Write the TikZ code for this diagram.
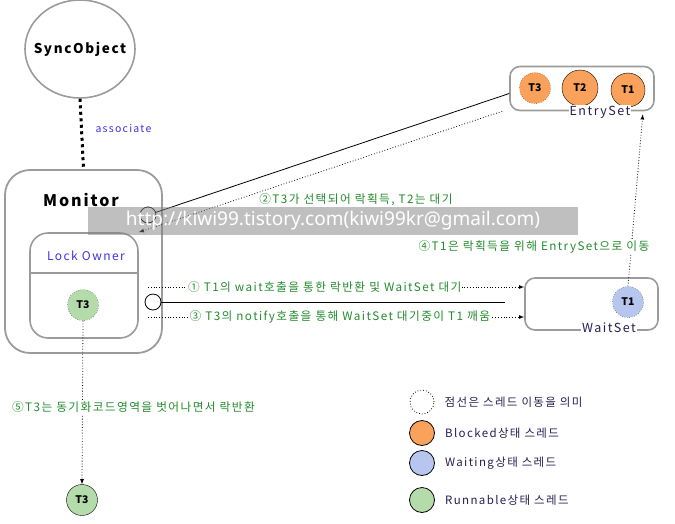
\documentclass[tikz,border=0pt]{standalone}
\usepackage{fontspec}
\setmainfont{Noto Sans CJK KR}
\newfontfamily\spacedfont[LetterSpace=12]{Noto Sans CJK KR}
\newfontfamily\markfont{Noto Sans}
\usepackage{tikz}
\usetikzlibrary{positioning,shapes,arrows}
\definecolor{blockorange}{RGB}{250,162,92}
\definecolor{waitblue}{RGB}{182,198,238}
\definecolor{rungreen}{RGB}{180,220,170}
\definecolor{stepgreen}{RGB}{35,140,45}
\definecolor{boxgray}{RGB}{155,155,155}
\definecolor{legendnavy}{RGB}{40,30,80}
\definecolor{ownerblue}{RGB}{60,50,230}

\begin{document}
\begin{tikzpicture}[x=1pt, y=-1pt, every node/.style={font=\fontsize{10}{12}\selectfont},
  thread/.style={draw, circle, minimum size=31pt, inner sep=0pt, font=\fontsize{10.5}{12}\selectfont\bfseries},
  port/.style={draw, circle, fill=white, minimum size=16pt, inner sep=0pt, thick},
  setbox/.style={draw=boxgray, line width=1.6pt, rounded corners=10pt, inner sep=0pt},
  moveline/.style={dotted, thick, -latex},
  steplabel/.style={text=stepgreen, fill=white, inner sep=1pt, font=\spacedfont\fontsize{11.7}{13}\selectfont},
  legendlabel/.style={text=legendnavy, anchor=west, inner sep=0pt, font=\spacedfont\fontsize{11.5}{13}\selectfont}]
\useasboundingbox (0,0) rectangle (675,523);

% SyncObject and Monitor
\node[draw=boxgray, line width=1.6pt, ellipse, minimum width=110pt, minimum height=98pt] (sync) at (80,49) {};
\node[font=\spacedfont\fontsize{13.5}{16}\selectfont\bfseries] (synctitle) at (sync) {SyncObject};
\node[draw=boxgray, line width=1.8pt, rounded corners=25pt, minimum width=157pt, minimum height=183pt] (monitor) at (83.5,261.5) {};
\node[font=\spacedfont\fontsize{16}{19}\selectfont\bfseries] (montitle) at (81,200) {Monitor};
\draw[line width=3pt, dash pattern=on 3pt off 3.5pt] (sync.south) -- (monitor.north);
\node[text=ownerblue, anchor=west, font=\spacedfont\fontsize{10.5}{12}\selectfont] (assoc) at (92,128) {associate};

% Lock Owner
\node[draw=boxgray, line width=1.6pt, rounded corners=18pt, minimum width=108pt, minimum height=105pt] (lockowner) at (84,285.5) {};
\draw[boxgray, line width=1.6pt] (30,273) -- (138,273);
\node[text=ownerblue, font=\spacedfont\fontsize{12}{14}\selectfont] (ownertitle) at (86,256) {Lock Owner};
\node[thread, fill=rungreen, dotted] (lockT3) at (83,305) {T3};
\node[thread, fill=rungreen] (outT3) at (82,500) {T3};

% EntrySet and WaitSet
\node[setbox, minimum width=144pt, minimum height=44pt] (entryset) at (582,88.5) {};
\node[thread, fill=blockorange, dotted] (entryT3) at (535,88) {T3};
\node[thread, fill=blockorange, minimum width=36pt] (entryT2) at (580,88) {T2};
\node[thread, fill=blockorange, minimum size=34pt] (entryT1) at (628,90) {T1};
\node[fill=white, text=legendnavy, inner sep=1pt, font=\spacedfont\fontsize{12.5}{14}\selectfont] (entrytitle) at (600,112) {EntrySet};

\node[setbox, minimum width=133pt, minimum height=52pt] (waitset) at (591.5,304) {};
\node[thread, fill=waitblue, dotted] (waitT1) at (628,302) {T1};
\node[fill=white, text=legendnavy, inner sep=1pt, font=\spacedfont\fontsize{12.5}{14}\selectfont] (waittitle) at (609,328) {WaitSet};

% ports and connectors
\node[port] (entryport) at (148,215) {};
\node[port] (waitport) at (153,302) {};
\coordinate (waitend) at (505,302);
\draw[thick] (entryport) -- ([yshift=-5pt]entryset.west);
\draw[thick] (waitport) -- (waitend);

% thread moves
\coordinate (step1) at (148,287);
\coordinate (step3) at (148,317);
\draw[moveline] ([xshift=-7pt]entryset.south west) -- (lockowner.north east);
\node[steplabel] (label2) at (356,200) {②T3가 선택되어 락획득, T2는 대기};
\draw[moveline] (step1) -- (step1 -| waitset.west) node[steplabel, pos=0.47] (label1) {① T1의 wait호출을 통한 락반환 및 WaitSet 대기};
\draw[moveline] (step3) -- (step3 -| waitset.west) node[steplabel, pos=0.51] (label3) {③ T3의 notify호출을 통해 WaitSet 대기중이 T1 깨움};
\draw[moveline] (waitT1.north) -- ([xshift=-12pt, yshift=-3pt]entryset.south east);
\node[steplabel] (label4) at (534,247) {④T1은 락획득을 위해 EntrySet으로 이동};
\draw[moveline] (lockT3.south) -- (outT3.north) node[steplabel, pos=0.53, xshift=51pt] (label5) {⑤T3는 동기화코드영역을 벗어나면서 락반환};

% legend
\node[draw, dotted, thick, circle, minimum size=24pt] (legmove) at (422,402) {};
\node[legendlabel, right=10pt of legmove] {점선은 스레드 이동을 의미};
\node[draw, thick, circle, fill=blockorange, minimum size=25pt] (legblocked) at (422,433) {};
\node[legendlabel, right=10pt of legblocked] {Blocked상태 스레드};
\node[draw, thick, circle, fill=waitblue, minimum size=25pt] (legwaiting) at (422,463) {};
\node[legendlabel, right=10pt of legwaiting] {Waiting상태 스레드};
\node[draw, thick, circle, fill=rungreen, minimum size=25pt] (legrunnable) at (422,500) {};
\node[legendlabel, right=10pt of legrunnable] {Runnable상태 스레드};

% watermark
\node[fill=black!50, fill opacity=0.5, text opacity=1, text=white, font=\markfont\fontsize{19}{22}\selectfont, minimum width=490pt, minimum height=28pt, inner sep=0pt] (mark) at (333,221) {http://kiwi99.tistory.com(kiwi99kr@gmail.com)};
\end{tikzpicture}
\end{document}
